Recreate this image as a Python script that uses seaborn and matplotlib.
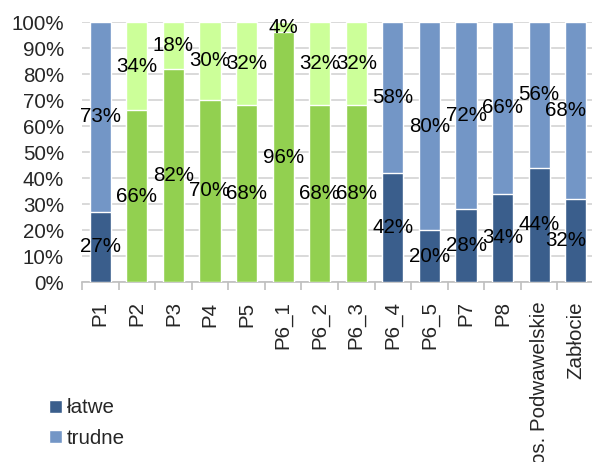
import matplotlib
matplotlib.use("Agg")
import matplotlib.pyplot as plt
from matplotlib.patches import Patch
import seaborn as sns
import pandas as pd

categories = ["P1", "P2", "P3", "P4", "P5", "P6_1", "P6_2", "P6_3", "P6_4",
              "P6_5", "P7", "P8", "os. Podwawelskie", "Zabłocie"]
latwe = [27, 66, 82, 70, 68, 96, 68, 68, 42, 20, 28, 34, 44, 32]
trudne = [73, 34, 18, 30, 32, 4, 32, 32, 58, 80, 72, 66, 56, 68]
green_group = ["P2", "P3", "P4", "P5", "P6_1", "P6_2", "P6_3"]

DARK_BLUE, LIGHT_BLUE = "#3A5E8C", "#7396C6"
DARK_GREEN, LIGHT_GREEN = "#92D050", "#CCFF99"

df = pd.DataFrame({"cat": categories, "latwe": latwe, "trudne": trudne})
df["total"] = df["latwe"] + df["trudne"]

low_pal = {c: (DARK_GREEN if c in green_group else DARK_BLUE) for c in categories}
high_pal = {c: (LIGHT_GREEN if c in green_group else LIGHT_BLUE) for c in categories}

sns.set_theme(style="white")
plt.rcParams["font.family"] = ["Liberation Sans", "DejaVu Sans"]
FS = 14.8
BAR_W = 0.58

fig = plt.figure(figsize=(5.92, 4.62), dpi=100)
ax = fig.add_axes([82 / 592, 180 / 462, 512 / 592, 260 / 462])

sns.barplot(data=df, x="cat", y="total", hue="cat", palette=high_pal,
            width=BAR_W, legend=False, ax=ax, saturation=1, zorder=2)
sns.barplot(data=df, x="cat", y="latwe", hue="cat", palette=low_pal,
            width=BAR_W, legend=False, ax=ax, saturation=1, zorder=3)

last = len(categories) - 1
for i, (lo, hi) in enumerate(zip(latwe, trudne)):
    # keep the rightmost labels inside the chart area
    if i == last:
        x, ha = i + BAR_W / 2, "right"
    else:
        x, ha = i, "center"
    ax.text(x, lo / 2, f"{lo}%", ha=ha, va="center", fontsize=FS,
            color="black", zorder=5)
    ax.text(x, lo + hi / 2, f"{hi}%", ha=ha, va="center", fontsize=FS,
            color="black", zorder=5)

ax.set_ylim(0, 100)
ax.set_xlim(-0.5, len(categories) - 0.5)
ax.set_yticks(range(0, 101, 10))
ax.set_yticklabels([f"{v}%" for v in range(0, 101, 10)], fontsize=FS)
ax.yaxis.grid(True, color="#D9D9D9", linewidth=1.4, zorder=0)
ax.set_axisbelow(True)
ax.set_xlabel("")
ax.set_ylabel("")
ax.set_xticks(range(len(categories)))
ax.set_xticklabels(categories, rotation=90, fontsize=FS, va="top")
ax.tick_params(axis="x", length=0, pad=14)
ax.tick_params(axis="y", length=0, pad=13)

# category separators below the axis
ax.set_xticks([i - 0.5 for i in range(len(categories) + 1)], minor=True)
ax.tick_params(axis="x", which="minor", length=6, color="#BFBFBF", width=1.2,
               bottom=True)

for side in ["top", "right", "left"]:
    ax.spines[side].set_visible(False)
ax.spines["bottom"].set_color("#BFBFBF")
ax.spines["bottom"].set_linewidth(1.2)

handles = [Patch(facecolor=DARK_BLUE, label="łatwe"),
           Patch(facecolor=LIGHT_BLUE, label="trudne")]
fig.legend(handles=handles, loc="lower left", bbox_to_anchor=(0.052, -0.009),
           frameon=False, fontsize=FS, handlelength=0.6, handleheight=0.6,
           handletextpad=0.25, labelspacing=0.55)

fig.savefig("out.png", dpi=100)
